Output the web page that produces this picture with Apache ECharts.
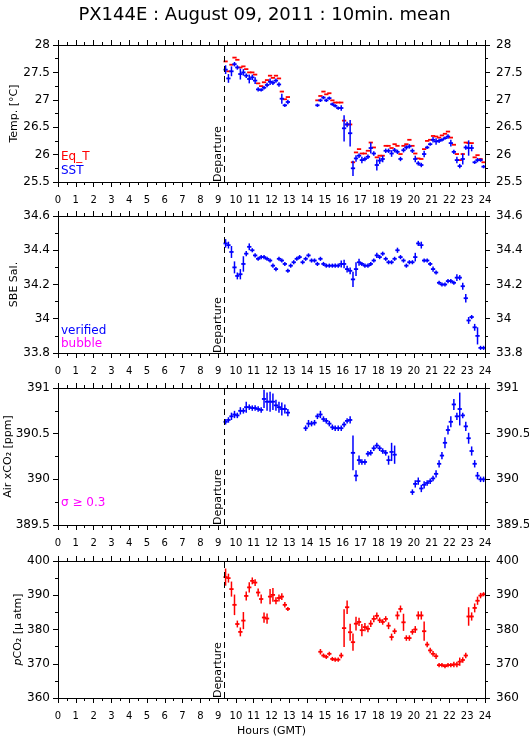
<!DOCTYPE html>
<html>
<head>
<meta charset="utf-8">
<title>PX144E</title>
<script src="https://cdn.jsdelivr.net/npm/echarts@6/dist/echarts.min.js"></script>
<style>
  html, body { margin: 0; padding: 0; background: #fff; }
  #chart { width: 529px; height: 739px; }
</style>
</head>
<body>
<div id="chart"></div>
<script>
// 10-minute slots (hours, GMT)
const hours = [
  9.42, 9.58, 9.75, 9.92,
  10.08, 10.25, 10.42, 10.58, 10.75, 10.92,
  11.08, 11.25, 11.42, 11.58, 11.75, 11.92,
  12.08, 12.25, 12.42, 12.58, 12.75, 12.92,
  13.08, 13.25, 13.42, 13.58, 13.75, 13.92,
  14.08, 14.25, 14.42, 14.58, 14.75, 14.92,
  15.08, 15.25, 15.42, 15.58, 15.75, 15.92,
  16.08, 16.25, 16.42, 16.58, 16.75, 16.92,
  17.08, 17.25, 17.42, 17.58, 17.75, 17.92,
  18.08, 18.25, 18.42, 18.58, 18.75, 18.92,
  19.08, 19.25, 19.42, 19.58, 19.75, 19.92,
  20.08, 20.25, 20.42, 20.58, 20.75, 20.92,
  21.08, 21.25, 21.42, 21.58, 21.75, 21.92,
  22.08, 22.25, 22.42, 22.58, 22.75, 22.92,
  23.08, 23.25, 23.42, 23.58, 23.75, 23.92
];
const departure = 9.33;

// panel 1: temperature
const sst = [
  27.55, 27.39, 27.52, 27.65, 27.59, 27.47, 27.50, 27.44, 27.38, 27.41, 27.35,
  27.19, 27.18, 27.22, 27.27, 27.33, 27.31, 27.35, 27.28, 27.02, 26.90, 26.96,
  null, null, null, null, null, null, null, null, null,
  26.90, 26.99, 27.04, 26.99, 27.03, 26.92, 26.89, 26.85, 26.85,
  26.48, 26.55, 26.39,
  25.75, 25.93, 25.98, 25.90, 25.92, 25.96, 26.12, 26.02, 25.81, 25.89, 25.92,
  26.07, 26.07, 26.02, 26.08, 26.05, 25.92, 26.08, 26.13, 26.15, 26.07,
  25.92, 25.84, 25.81, 26.01, 26.13, 26.19, 26.27, 26.24, 26.25, 26.27,
  26.30, 26.33, 26.21, 26.05, 25.90, 25.79, 25.92, 26.13, 26.12, 26.12,
  25.86, 25.90, 25.90, 25.78
];
const sstErr = [
  0.08, 0.08, 0.09, 0.04, 0.04, 0.10, 0.06, 0.04, 0.08, 0.05, 0.06,
  0.04, 0.03, 0.03, 0.04, 0.06, 0.04, 0.04, 0.04, 0.09, 0.03, 0.04,
  null, null, null, null, null, null, null, null, null,
  0.03, 0.03, 0.03, 0.03, 0.03, 0.03, 0.03, 0.03, 0.05,
  0.24, 0.05, 0.24,
  0.14, 0.06, 0.04, 0.06, 0.04, 0.04, 0.10, 0.04, 0.10, 0.06, 0.06,
  0.04, 0.04, 0.06, 0.04, 0.04, 0.04, 0.04, 0.04, 0.04, 0.04,
  0.06, 0.04, 0.04, 0.06, 0.03, 0.03, 0.05, 0.06, 0.04, 0.03,
  0.03, 0.04, 0.06, 0.04, 0.06, 0.04, 0.10, 0.04, 0.14, 0.06,
  0.03, 0.04, 0.03, 0.03
];
const eqT = [
  27.70, 27.52, 27.64, 27.77, 27.73, 27.59, 27.61, 27.56, 27.50, 27.50, 27.46,
  27.30, 27.25, 27.32, 27.36, 27.44, 27.40, 27.44, 27.39, 27.15, 27.01, 27.05,
  null, null, null, null, null, null, null, null, null,
  26.99, 27.07, 27.15, 27.10, 27.12, 26.99, 26.95, 26.95, 26.95,
  26.62, 26.55, 26.55,
  25.86, 26.04, 26.10, 26.02, 26.02, 26.07, 26.22, 26.13, 25.95, 25.98, 25.98,
  26.16, 26.16, 26.12, 26.19, 26.16, 26.01, 26.16, 26.19, 26.27, 26.16,
  26.02, 25.93, 25.92, 26.10, 26.25, 26.27, 26.34, 26.33, 26.31, 26.35,
  26.38, 26.42, 26.31, 26.18, 26.01, 25.90, 26.01, 26.22, 26.21, 26.21,
  25.95, 25.99, 25.92, 25.86
];

// panel 2: SBE salinity
const sal = [
  34.44, 34.43, 34.39, 34.30, 34.25, 34.26, 34.32, 34.38, 34.42, 34.40,
  34.37, 34.35, 34.36, 34.36, 34.35, 34.34, 34.31, 34.29, 34.35, 34.34,
  34.32, 34.28, 34.31, 34.33, 34.35, 34.36, 34.33, 34.35, 34.37, 34.34,
  34.34, 34.32, 34.35, 34.32, 34.31, 34.31, 34.31, 34.31, 34.31, 34.32,
  34.32, 34.29, 34.28, 34.23, 34.29, 34.33, 34.32, 34.31, 34.31, 34.32,
  34.34, 34.37, 34.36, 34.38, 34.35, 34.33, 34.33, 34.35, 34.40, 34.36,
  34.34, 34.31, 34.33, 34.33, 34.36, 34.44, 34.43, 34.34, 34.34, 34.32,
  34.29, 34.27, 34.21, 34.20, 34.20, 34.22, 34.22, 34.21, 34.24, 34.24,
  34.19, 34.12, 33.99, 34.01, 33.95, 33.90, 33.83, 33.83
];
const salErr = [
  0.025, 0.02, 0.035, 0.035, 0.02, 0.03, 0.045, 0.015, 0.02, 0.012,
  0.012, 0.012, 0.012, 0.012, 0.012, 0.012, 0.012, 0.012, 0.012, 0.012,
  0.012, 0.012, 0.012, 0.012, 0.012, 0.012, 0.012, 0.012, 0.012, 0.012,
  0.012, 0.012, 0.012, 0.012, 0.012, 0.012, 0.012, 0.012, 0.012, 0.02,
  0.025, 0.02, 0.02, 0.045, 0.04, 0.02, 0.012, 0.012, 0.012, 0.012,
  0.012, 0.015, 0.012, 0.012, 0.012, 0.012, 0.012, 0.012, 0.015, 0.012,
  0.012, 0.012, 0.012, 0.012, 0.025, 0.015, 0.02, 0.012, 0.012, 0.012,
  0.015, 0.012, 0.012, 0.012, 0.012, 0.012, 0.012, 0.012, 0.02, 0.015,
  0.02, 0.025, 0.02, 0.012, 0.02, 0.05, 0.012, 0.012
];

// panel 3: air xCO2
const airCO2 = [
  390.63, 390.65, 390.69, 390.71, 390.70, 390.75, 390.75, 390.79, 390.79, 390.78,
  390.78, 390.77, 390.76, 390.88, 390.85, 390.85, 390.85, 390.81, 390.79, 390.77,
  390.77, 390.73,
  null, null, null, null, null,
  390.56, 390.61, 390.61, 390.62, 390.69, 390.71, 390.66, 390.64, 390.61, 390.57,
  390.56, 390.56, 390.56, 390.60, 390.64, 390.65, 390.29, 390.04, 390.21, 390.19,
  390.19, 390.28, 390.29, 390.34, 390.37, 390.34, 390.31, 390.29, 390.21, 390.30,
  390.27,
  null, null, null, null, null,
  389.86, 389.95, 389.98, 389.90, 389.94, 389.96, 389.98, 390.01, 390.06, 390.17,
  390.26, 390.40, 390.54, 390.63, 390.82, 390.69, 390.77, 390.70, 390.58, 390.45,
  390.31, 390.17, 390.04, 390.00, 390.00
];
const airErr = [
  0.03, 0.03, 0.04, 0.04, 0.03, 0.04, 0.03, 0.06, 0.03, 0.03,
  0.03, 0.03, 0.03, 0.10, 0.10, 0.11, 0.09, 0.06, 0.06, 0.07,
  0.05, 0.04,
  null, null, null, null, null,
  0.03, 0.04, 0.03, 0.03, 0.03, 0.04, 0.03, 0.03, 0.03, 0.03,
  0.03, 0.03, 0.03, 0.03, 0.03, 0.04, 0.19, 0.06, 0.05, 0.03,
  0.03, 0.03, 0.03, 0.03, 0.03, 0.03, 0.03, 0.03, 0.05, 0.10,
  0.10,
  null, null, null, null, null,
  0.03, 0.04, 0.04, 0.04, 0.04, 0.03, 0.03, 0.03, 0.04, 0.04,
  0.04, 0.06, 0.05, 0.06, 0.06, 0.04, 0.18, 0.03, 0.05, 0.06,
  0.05, 0.04, 0.04, 0.03, 0.03
];

// panel 4: pCO2
const pCO2 = [
  395.3, 395.0, 391.8, 387.2, 381.6, 379.3, 382.6, 389.8, 392.3, 394.2,
  393.7, 390.8, 388.9, 383.5, 383.2, 389.6, 390.1, 388.4, 389.2, 389.6,
  387.2, 386.0,
  null, null, null, null, null, null, null, null, null, null,
  373.5, 372.4, 372.0, 372.9, 371.4, 371.2, 371.2, 372.4,
  380.4, 386.5, 379.2, 376.3, 381.7, 382.2, 379.8, 380.7, 380.2, 381.7,
  383.1, 384.0, 382.7, 382.2, 383.1, 381.1, 377.8, 379.5, 384.1, 386.0,
  382.1, 377.5, 377.5, 379.3, 380.0, 384.1, 384.1, 379.5, 375.6, 373.9,
  372.9, 372.2, 369.6, 369.6, 369.3, 369.6, 369.6, 369.8, 369.8, 370.6,
  371.1, 372.4, 383.8, 383.8, 386.3, 388.4, 389.9, 390.3
];
const pCO2Err = [
  2.5, 1.3, 2.2, 3.0, 1.0, 1.3, 2.5, 1.3, 1.5, 1.0,
  1.0, 1.2, 1.3, 1.5, 1.5, 2.2, 2.0, 1.0, 1.0, 1.0,
  0.8, 0.6,
  null, null, null, null, null, null, null, null, null, null,
  0.8, 0.6, 0.6, 0.6, 0.6, 0.6, 0.6, 0.8,
  5.5, 2.0, 2.5, 2.5, 2.0, 1.2, 1.8, 1.2, 1.0, 1.0,
  1.0, 1.0, 0.8, 0.8, 0.8, 1.0, 1.0, 0.8, 1.2, 1.0,
  2.5, 0.8, 0.8, 0.8, 1.0, 1.2, 1.2, 2.8, 0.8, 0.8,
  0.8, 0.8, 0.6, 0.6, 0.6, 0.6, 0.6, 0.8, 0.8, 1.2,
  0.8, 0.8, 2.7, 1.2, 1.3, 1.2, 0.8, 0.6
];

// axis ranges / tick labels
const hourTicks = { min: 0, max: 24, interval: 1 };
const tempAxis = { min: 25.5, max: 28, interval: 0.5 };
const salAxis = { min: 33.8, max: 34.6, interval: 0.2 };
const airAxis = { min: 389.5, max: 391, interval: 0.5 };
const pco2Axis = { min: 360, max: 400, interval: 10 };

const FONT = 'DejaVu Sans';
const BLUE = '#0000ff', RED = '#ff0000', MAGENTA = '#ff00ff';

function points(vals, errs) {
  const out = [];
  hours.forEach((h, i) => {
    if (vals[i] != null) out.push([h, vals[i], errs ? errs[i] : 0]);
  });
  return out;
}

// "+" marks: horizontal arm spans the 10-min slot, vertical arm is +/- std dev
function crossRenderer(color, withBar) {
  return function (params, api) {
    const t = api.value(0), v = api.value(1), e = api.value(2);
    const mid = api.coord([t, v]);
    const l = api.coord([t - 0.12, v]);
    const r = api.coord([t + 0.12, v]);
    const kids = [{
      type: 'line',
      shape: { x1: l[0], y1: mid[1], x2: r[0], y2: mid[1] },
      style: { stroke: color, lineWidth: 1.8 }
    }];
    if (withBar) {
      const hi = api.coord([t, v + e]), lo = api.coord([t, v - e]);
      kids.push({
        type: 'line',
        shape: { x1: mid[0], y1: hi[1], x2: mid[0], y2: lo[1] },
        style: { stroke: color, lineWidth: 1.5 }
      });
    }
    return { type: 'group', children: kids };
  };
}

const departureLine = {
  symbol: 'none',
  silent: true,
  animation: false,
  lineStyle: { color: '#000', width: 1, type: [6, 4] },
  label: {
    show: true, formatter: 'Departure', position: 'insideStartTop',
    color: '#000', fontSize: 11, fontFamily: FONT, distance: [0, 0]
  },
  data: [{ xAxis: departure }]
};

const tops = [45, 216, 388, 561];
const panelH = 137;
const grids = tops.map(t => ({
  left: 58, right: 44, top: t, height: panelH,
  containLabel: false, outerBoundsMode: 'none'
}));

const blackLine = { lineStyle: { color: '#000', width: 1 } };

function xAxesFor(g, last) {
  const base = {
    gridIndex: g, type: 'value',
    min: hourTicks.min, max: hourTicks.max, interval: hourTicks.interval,
    axisLine: Object.assign({ show: true, onZero: false }, blackLine),
    axisTick: Object.assign({ inside: false, length: 5 }, blackLine),
    minorTick: Object.assign({ show: true, splitNumber: 2, length: 3 }, blackLine),
    splitLine: { show: false }
  };
  return [
    Object.assign({}, base, {
      position: 'bottom',
      axisLabel: { fontSize: 10, fontFamily: FONT, color: '#000', margin: 13 },
      name: last ? 'Hours (GMT)' : '',
      nameLocation: 'middle', nameGap: 28, nameMoveOverlap: false,
      nameTextStyle: { fontSize: 11, fontFamily: FONT, color: '#000' }
    }),
    Object.assign({}, base, { position: 'top', axisLabel: { show: false } })
  ];
}

function yAxesFor(g, range, name, nameGap) {
  const base = {
    gridIndex: g, type: 'value',
    min: range.min, max: range.max, interval: range.interval,
    axisLine: Object.assign({ show: true, onZero: false }, blackLine),
    axisTick: Object.assign({ inside: false, length: 5 }, blackLine),
    minorTick: Object.assign({ show: true, splitNumber: 2, length: 3 }, blackLine),
    splitLine: { show: false }
  };
  return [
    Object.assign({}, base, {
      position: 'left',
      axisLabel: { fontSize: 12, fontFamily: FONT, color: '#000', margin: 8 },
      name: name, nameLocation: 'middle', nameGap: nameGap, nameMoveOverlap: false,
      nameTextStyle: {
        fontSize: 11, fontFamily: FONT, color: '#000',
        rich: {
          it: { fontSize: 11, fontFamily: FONT, color: '#000', fontStyle: 'italic' }
        }
      }
    }),
    Object.assign({}, base, {
      position: 'right',
      axisLabel: { fontSize: 12, fontFamily: FONT, color: '#000', margin: 11 }
    })
  ];
}

const xAxis = [].concat(
  xAxesFor(0, false), xAxesFor(1, false), xAxesFor(2, false), xAxesFor(3, true)
);
const yAxis = [].concat(
  yAxesFor(0, tempAxis, 'Temp. [°C]', 38),
  yAxesFor(1, salAxis, 'SBE Sal.', 38),
  yAxesFor(2, airAxis, 'Air xCO₂ [ppm]', 44),
  yAxesFor(3, pco2Axis, '{it|p}CO₂ [μ atm]', 34)
);

function crossSeries(g, data, color, withBar, marker) {
  const s = {
    type: 'custom', xAxisIndex: g * 2, yAxisIndex: g * 2,
    renderItem: crossRenderer(color, withBar),
    clip: true, silent: true,
    encode: { x: 0, y: 1 },
    data: data
  };
  if (marker) s.markLine = departureLine;
  return s;
}

const legendText = (x, y, text, color) => ({
  type: 'text', left: x, top: y,
  style: { text: text, fill: color, fontSize: 12, fontFamily: FONT }
});

const chart = echarts.init(document.getElementById('chart'));
chart.setOption({
  animation: false,
  backgroundColor: '#fff',
  title: {
    text: 'PX144E : August 09, 2011 : 10min. mean',
    left: 'center', top: 1,
    textStyle: { fontSize: 18, fontWeight: 'normal', fontFamily: FONT, color: '#000' }
  },
  grid: grids,
  xAxis: xAxis,
  yAxis: yAxis,
  graphic: [
    legendText(61, 151, 'Eq_T', RED),
    legendText(61, 165, 'SST', BLUE),
    legendText(61, 325, 'verified', BLUE),
    legendText(61, 338, 'bubble', MAGENTA),
    legendText(61, 497, 'σ ≥ 0.3', MAGENTA)
  ],
  series: [
    crossSeries(0, points(eqT), RED, false, true),
    crossSeries(0, points(sst, sstErr), BLUE, true, false),
    crossSeries(1, points(sal, salErr), BLUE, true, true),
    crossSeries(2, points(airCO2, airErr), BLUE, true, true),
    crossSeries(3, points(pCO2, pCO2Err), RED, true, true)
  ]
});
</script>
</body>
</html>
